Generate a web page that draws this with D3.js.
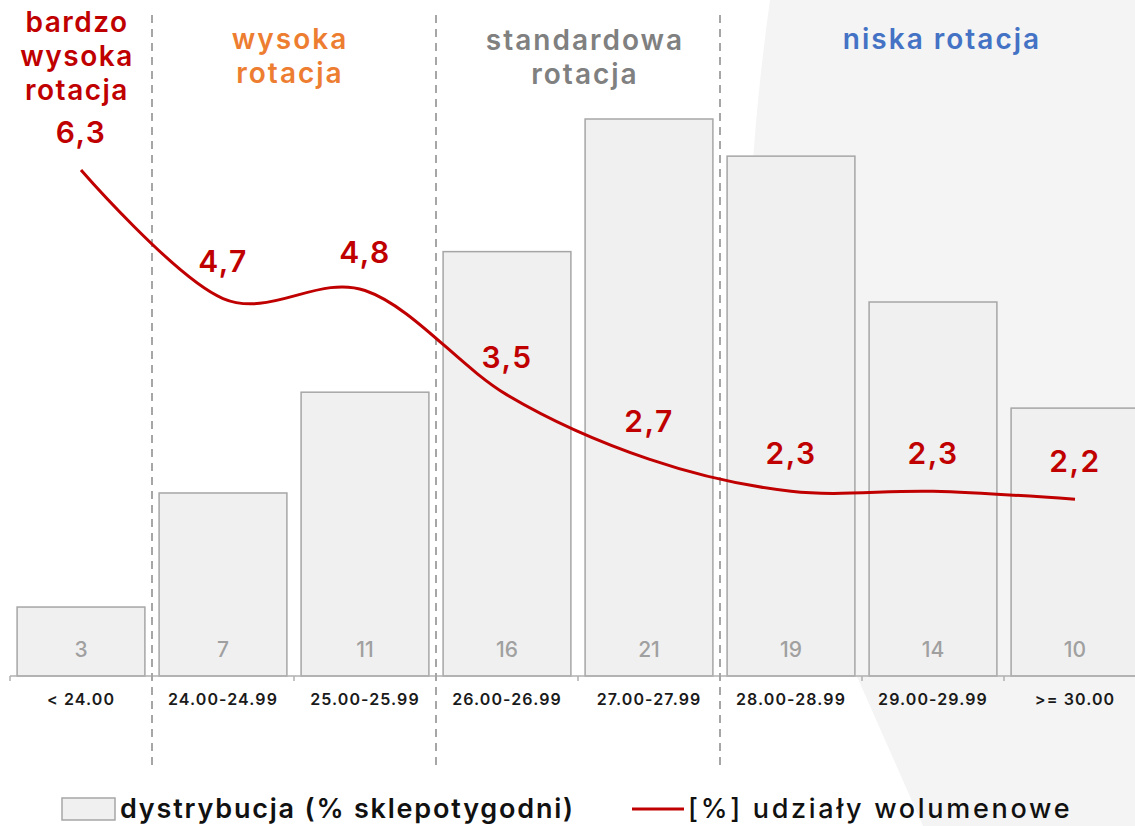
<!DOCTYPE html>
<html>
<head>
<meta charset="utf-8">
<script src="https://cdn.jsdelivr.net/npm/d3@7/dist/d3.min.js"></script>
<style>
  body { margin: 0; background: #fff; }
  svg { display: block; font-family: Inter, "Open Sans", sans-serif; }
</style>
</head>
<body>
<div class="chart-container"></div>
<script>
const width = 1135;
const height = 826;

// data
const categories = ["< 24.00", "24.00-24.99", "25.00-25.99", "26.00-26.99",
  "27.00-27.99", "28.00-28.99", "29.00-29.99", ">= 30.00"];
const distribution = [2.6, 6.9, 10.7, 16, 21, 19.6, 14.1, 10.1];
const distributionLabels = ["3", "7", "11", "16", "21", "19", "14", "10"];
const volumeShare = [6.3, 4.7, 4.8, 3.5, 2.7, 2.3, 2.3, 2.2];
const groups = [
  { lines: ["bardzo", "wysoka", "rotacja"], from: 0, to: 0, color: "#c00000" },
  { lines: ["wysoka", "rotacja"], from: 1, to: 2, color: "#ed7d31" },
  { lines: ["standardowa", "rotacja"], from: 3, to: 4, color: "#808080" },
  { lines: ["niska rotacja"], from: 5, to: 7, color: "#4472c4" }
];
const legendBars = "dystrybucja (% sklepotygodni)";
const legendLine = "[%] udziały wolumenowe";

// title placement: [centre x, first baseline]
const titlePos = [[77, 32], [290, 49], [585, 50], [942, 49]];

const baseY = 676;

var x = d3.scaleBand()
  .domain(categories)
  .range([10, 10 + 142 * 8])
  .paddingInner(0.1)
  .paddingOuter(0.05);
var y = d3.scaleLinear().domain([0, 21]).range([baseY, 119]);
var y2 = d3.scaleLinear().domain([0, 6.3]).range([baseY, 170]);

var svg = d3.select(".chart-container")
  .append("svg")
  .attr("width", width)
  .attr("height", height);

// grey backdrop on the right
svg.append("path")
  .attr("d", "M770,0 Q735,250 757,450 L923,826 L1135,826 L1135,0 Z")
  .style("fill", "#f4f4f4");

const step = x.step();
const start = x.range()[0];

// bars
svg.selectAll(".bar")
  .data(distribution)
  .join("rect")
  .attr("class", "bar")
  .attr("x", (d, i) => x(categories[i]))
  .attr("y", d => y(d))
  .attr("width", x.bandwidth())
  .attr("height", d => baseY - y(d))
  .style("fill", "#f0f0f0")
  .style("stroke", "#a6a6a6")
  .style("stroke-width", 1.5);

svg.selectAll(".bar-label")
  .data(distributionLabels)
  .join("text")
  .attr("class", "bar-label")
  .attr("x", (d, i) => x(categories[i]) + x.bandwidth() / 2)
  .attr("y", 657)
  .attr("text-anchor", "middle")
  .style("font-size", "21px")
  .style("font-weight", 500)
  .style("fill", "#a0a0a0")
  .text(d => d);

// x axis
var xAxis = d3.axisBottom(x).tickSize(0).tickPadding(0);
var axisG = svg.append("g")
  .attr("class", "x-axis")
  .attr("transform", "translate(0," + baseY + ")")
  .call(xAxis);
axisG.select(".domain").remove();
axisG.append("line")
  .attr("x1", start).attr("x2", width)
  .style("stroke", "#b0b0b0").style("stroke-width", 1.5);
axisG.selectAll(".edge")
  .data(d3.range(categories.length + 1))
  .join("line")
  .attr("class", "edge")
  .attr("x1", i => start + i * step).attr("x2", i => start + i * step)
  .attr("y1", 0).attr("y2", 5)
  .style("stroke", "#b0b0b0").style("stroke-width", 1.5);
axisG.selectAll(".tick text")
  .attr("y", 29)
  .attr("dy", 0)
  .style("font-family", "Inter, sans-serif")
  .style("font-size", "16px")
  .style("font-weight", 600)
  .style("letter-spacing", "1.1px")
  .style("fill", "#1a1a1a");

// dashed separators between groups
svg.selectAll(".sep")
  .data(groups.slice(1))
  .join("line")
  .attr("class", "sep")
  .attr("x1", g => start + g.from * step)
  .attr("x2", g => start + g.from * step)
  .attr("y1", 15).attr("y2", 766)
  .style("stroke", "#a6a6a6")
  .style("stroke-width", 2)
  .style("stroke-dasharray", "8,6");

// group titles
groups.forEach((g, i) => {
  const [cx, ty] = titlePos[i];
  const t = svg.append("text")
    .attr("x", cx)
    .attr("y", ty)
    .attr("text-anchor", "middle")
    .style("font-size", "28px")
    .style("font-weight", 600)
    .style("letter-spacing", i === 0 ? "1.5px" : "2px")
    .style("fill", g.color);
  g.lines.forEach((l, k) => {
    t.append("tspan").attr("x", cx).attr("dy", k === 0 ? 0 : 34).text(l);
  });
});

// line series
var valueline = d3.line()
  .x((d, i) => x(categories[i]) + x.bandwidth() / 2)
  .y(d => y2(d))
  .curve(d3.curveCardinal.tension(0));

svg.append("path")
  .datum(volumeShare)
  .attr("d", valueline)
  .style("fill", "none")
  .style("stroke", "#c00000")
  .style("stroke-width", 3);

svg.selectAll(".line-label")
  .data(volumeShare)
  .join("text")
  .attr("class", "line-label")
  .attr("x", (d, i) => x(categories[i]) + x.bandwidth() / 2)
  .attr("y", d => y2(d) - 27)
  .attr("text-anchor", "middle")
  .style("font-size", "30px")
  .style("font-weight", 600)
  .style("letter-spacing", "1.5px")
  .style("fill", "#c00000")
  .text(d => String(d).replace(".", ","));

// legend
var legend = svg.append("g").attr("class", "legend");
legend.append("rect")
  .attr("x", 62).attr("y", 798).attr("width", 53).attr("height", 22)
  .style("fill", "#f0f0f0").style("stroke", "#a6a6a6").style("stroke-width", 1.5);
legend.append("text")
  .attr("x", 120).attr("y", 818)
  .style("font-size", "27px").style("font-weight", 600)
  .style("letter-spacing", "1.8px").style("fill", "#111")
  .text(legendBars);
legend.append("line")
  .attr("x1", 632).attr("x2", 684).attr("y1", 809).attr("y2", 809)
  .style("stroke", "#c00000").style("stroke-width", 3);
legend.append("text")
  .attr("x", 688).attr("y", 818)
  .style("font-size", "27px").style("font-weight", 500)
  .style("letter-spacing", "2.7px").style("fill", "#111")
  .text(legendLine);
</script>
</body>
</html>
